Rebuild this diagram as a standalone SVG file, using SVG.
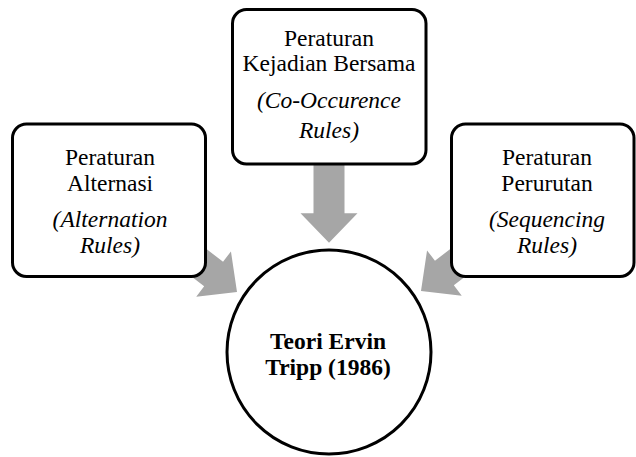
<svg xmlns="http://www.w3.org/2000/svg" width="636" height="457" viewBox="0 0 636 457">
<defs>
<style>
.box{fill:#fff;stroke:#000;stroke-width:3}
.arr{fill:#a6a6a6;stroke:none}
.t{font-family:"Liberation Serif","Times New Roman",serif;font-size:23.5px;fill:#000;text-anchor:middle}
.i{font-style:italic}
.b{font-weight:bold}
</style>
<path id="arrow" d="M0,0 L-29.5,-28.5 L-29.5,-15.5 L-80,-15.5 L-80,15.5 L-29.5,15.5 L-29.5,28.5 Z"/>
</defs>
<rect width="636" height="457" fill="#fff"/>
<g id="connectors">
<use href="#arrow" class="arr" transform="translate(329,242.7) rotate(90)"/>
<use href="#arrow" class="arr" transform="translate(237,292) rotate(37.5)"/>
<use href="#arrow" class="arr" transform="translate(421,291) rotate(142.5)"/>
</g>
<g id="node-alternasi">
<rect class="box" x="12.5" y="124" width="193" height="152.5" rx="14"/>
<text class="t" x="110" y="165">Peraturan</text>
<text class="t" x="110" y="190.7">Alternasi</text>
<text class="t i" x="110" y="227.3">(Alternation</text>
<text class="t i" x="110" y="253.3">Rules)</text>
</g>
<g id="node-kejadian">
<rect class="box" x="232.5" y="9.5" width="193.5" height="154.5" rx="14"/>
<text class="t" x="329" y="46">Peraturan</text>
<text class="t" x="329" y="70.5">Kejadian Bersama</text>
<text class="t i" x="329" y="108.3">(Co-Occurence</text>
<text class="t i" x="329" y="137.5">Rules)</text>
</g>
<g id="node-perurutan">
<rect class="box" x="451.5" y="124" width="182.5" height="152.5" rx="14"/>
<text class="t" x="547" y="165">Peraturan</text>
<text class="t" x="547" y="190.7">Perurutan</text>
<text class="t i" x="547" y="227.3">(Sequencing</text>
<text class="t i" x="547" y="253.3">Rules)</text>
</g>
<g id="node-teori">
<circle class="box" cx="329" cy="352" r="102"/>
<text class="t b" x="328" y="349.3">Teori Ervin</text>
<text class="t b" x="328" y="375">Tripp (1986)</text>
</g>
</svg>
